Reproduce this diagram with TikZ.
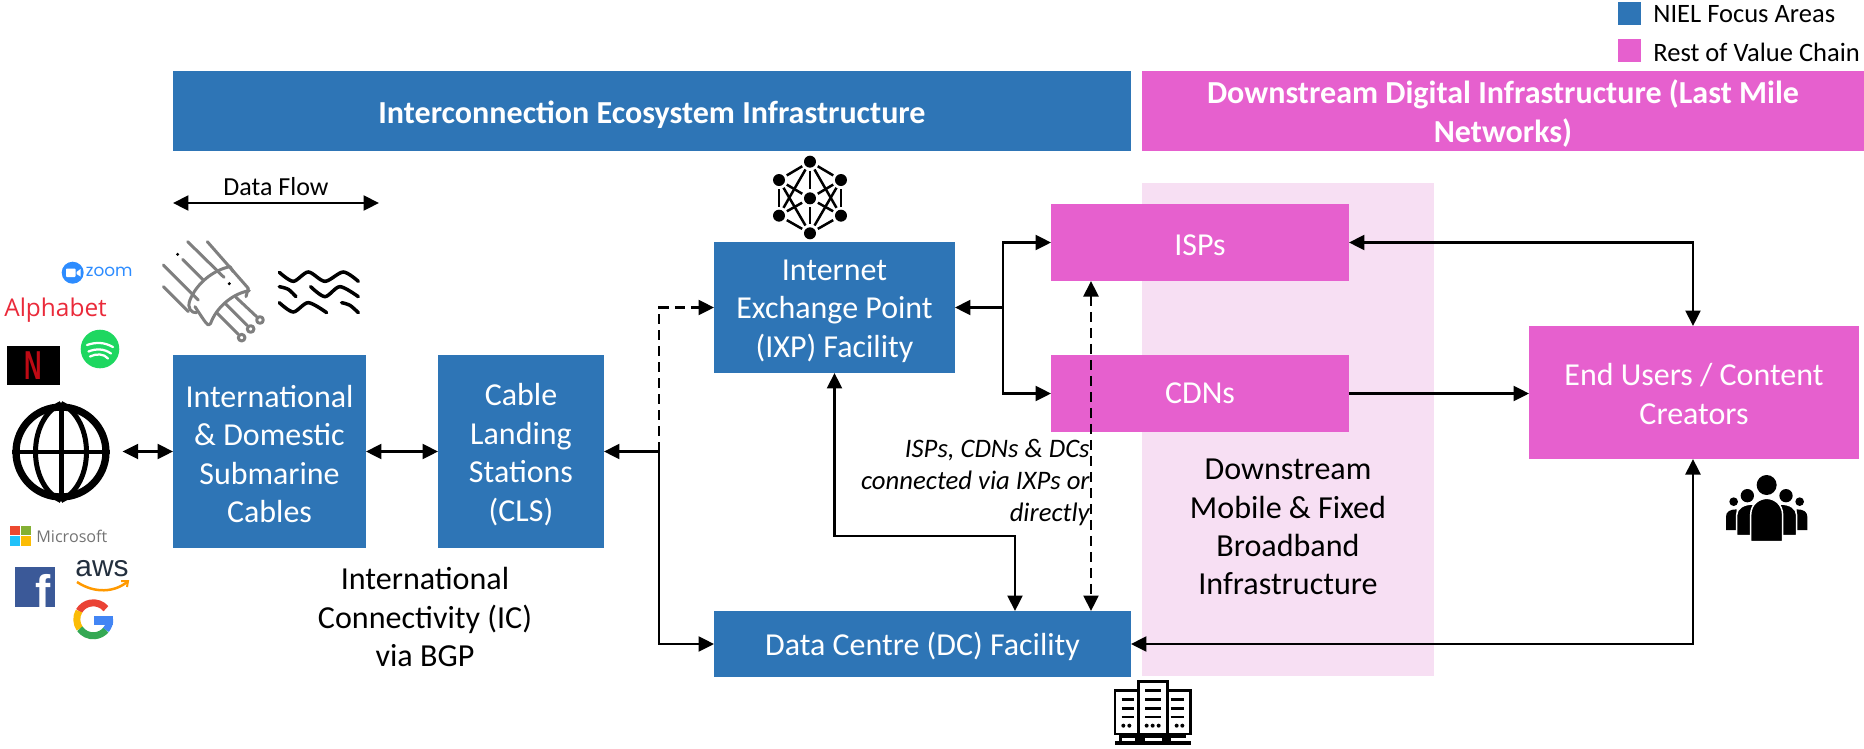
\documentclass[tikz,border=0pt]{standalone}
\usepackage{fontspec}
\usepackage{graphicx}
\setmainfont{Carlito}
\newfontfamily\logosans{Open Sans}
\newfontfamily\logoround{Poppins}
\newfontfamily\logoheavy{Liberation Sans}
\usetikzlibrary{arrows.meta}
\definecolor{nielblue}{RGB}{46,117,182}
\definecolor{chainpink}{RGB}{230,96,206}
\definecolor{panelpink}{RGB}{247,223,243}
\definecolor{cablegray}{RGB}{127,127,127}
\definecolor{zoomblue}{RGB}{45,140,255}
\definecolor{alphared}{RGB}{234,42,58}
\definecolor{netflixred}{RGB}{190,10,20}
\definecolor{spotgreen}{RGB}{30,215,96}
\definecolor{fbblue}{RGB}{59,89,152}
\definecolor{awsdark}{RGB}{35,47,62}
\definecolor{awsorange}{RGB}{255,153,0}
\definecolor{msgray}{RGB}{115,115,115}
\definecolor{ggred}{RGB}{234,67,53}
\definecolor{ggyellow}{RGB}{251,188,5}
\definecolor{gggreen}{RGB}{52,168,83}
\definecolor{ggblue}{RGB}{66,133,244}
\tikzset{
  boxbase/.style={inner sep=0pt, outer sep=0pt},
  bluebox/.style={boxbase, fill=nielblue},
  pinkbox/.style={boxbase, fill=chainpink},
  boxtext/.style={inner sep=0pt, align=center, text=white, font=\fontsize{18.2}{22}\selectfont},
  headtext/.style={boxtext, font=\fontsize{18.25}{22.4}\selectfont\bfseries},
  blacktext/.style={inner sep=0pt, align=center, text=black, font=\fontsize{18.25}{21.8}\selectfont},
  keytext/.style={blacktext, anchor=west, font=\fontsize{15.1}{18}\selectfont},
  logotext/.style={inner sep=0pt, anchor=west},
  link/.style={line width=0.044cm, {Triangle[length=0.31cm,width=0.3cm]}-{Triangle[length=0.31cm,width=0.3cm]}},
  linkone/.style={line width=0.044cm, -{Triangle[length=0.31cm,width=0.3cm]}},
  dashlink/.style={dash pattern=on 0.2cm off 0.12cm},
  icon/.style={line width=0.06cm, line cap=round, line join=round},
}
\begin{document}
\begin{tikzpicture}[x=0.02cm,y=-0.02cm]
\useasboundingbox (0,0) rectangle (1864,748);
% Legend
\node[fill=nielblue, minimum width=0.46cm, minimum height=0.46cm, inner sep=0pt] (keyniel) at (1629.5,13.5) {};
\node[fill=chainpink, minimum width=0.46cm, minimum height=0.46cm, inner sep=0pt] (keyrest) at (1629.5,50.5) {};
\node[keytext] (keynieltxt) at (1653,14) {NIEL Focus Areas};
\node[keytext] (keyresttxt) at (1653,52) {Rest of Value Chain};
% Headers
\node[bluebox, minimum width=19.16cm, minimum height=1.6cm] (headblue) at (652,111) {};
\node[pinkbox, minimum width=14.44cm, minimum height=1.6cm] (headpink) at (1503,111) {};
\node[headtext] (headbluetxt) at (652,114.5) {Interconnection Ecosystem Infrastructure};
\node[headtext] (headpinktxt) at (1503,113.5) {Downstream Digital Infrastructure (Last Mile\\Networks)};
% Panel behind the last mile boxes
\node[fill=panelpink, minimum width=5.84cm, minimum height=9.86cm, inner sep=0pt] (panel) at (1288,429.5) {};
% Boxes
\node[bluebox, minimum width=3.86cm, minimum height=3.86cm] (subsea) at (269.5,451.5) {};
\node[bluebox, minimum width=3.32cm, minimum height=3.86cm] (cls) at (521,451.5) {};
\node[bluebox, minimum width=4.82cm, minimum height=2.62cm] (ixp) at (834.5,307.5) {};
\node[bluebox, minimum width=8.34cm, minimum height=1.32cm] (dc) at (922.5,644) {};
\node[pinkbox, minimum width=5.96cm, minimum height=1.54cm] (isps) at (1200,242.5) {};
\node[pinkbox, minimum width=5.96cm, minimum height=1.54cm] (cdns) at (1200,393.5) {};
\node[pinkbox, minimum width=6.6cm, minimum height=2.66cm] (users) at (1694,392.5) {};
% Box labels
\node[boxtext] (subseatxt) at (269.5,454) {International\\\& Domestic\\Submarine\\Cables};
\node[boxtext] (clstxt) at (521,454.5) {Cable\\Landing\\Stations\\(CLS)};
\node[boxtext] (ixptxt) at (834.5,311) {Internet\\Exchange Point\\(IXP) Facility};
\node[boxtext] (dctxt) at (922.5,646.5) {Data Centre (DC) Facility};
\node[boxtext] (ispstxt) at (1200,245) {ISPs};
\node[boxtext] (cdnstxt) at (1200,393.5) {CDNs};
\node[boxtext] (userstxt) at (1694,393.7) {End Users / Content\\Creators};
% Free text
\node[blacktext] (ictxt) at (425,617) {International\\Connectivity (IC)\\via BGP};
\node[blacktext] (downtxt) at (1288,527) {Downstream\\Mobile \& Fixed\\Broadband\\Infrastructure};
\node[blacktext, font=\fontsize{15.2}{18.2}\selectfont\itshape, align=right, anchor=east] (viatxt) at (1090,483) {ISPs, CDNs \& DCs\\connected via IXPs or\\directly};
\node[blacktext, font=\fontsize{14.8}{17}\selectfont] (flowtxt) at (276,187) {Data Flow};
% Data flow arrow
\coordinate (flowl) at (173,203);
\coordinate (flowr) at (379,203);
\draw[link] (flowl) -- (flowr);
% Globe
\node[circle, draw=black, line width=0.145cm, minimum size=1.8cm, inner sep=0pt] (globe) at (61,452) {};
\draw[line width=0.1cm] (globe.north) -- (globe.south);
\draw[line width=0.07cm] (globe.west) -- (globe.east);
\draw[line width=0.1cm] (globe.north) .. controls (27,420) and (27,484) .. (globe.south);
\draw[line width=0.1cm] (globe.north) .. controls (95,420) and (95,484) .. (globe.south);
% Connectors
\coordinate (clssplit) at (659,451.5);
\coordinate (ixpsplit) at (1003,307.5);
\coordinate (dcdrop) at (1015,611);
\coordinate (dashtop) at (1091,281);
\coordinate (dashend) at (1091,611);
\coordinate (usertop) at (1693,326);
\coordinate (userbot) at (1693,459);
\draw[link, shorten <=0.26cm] (globe.east |- subsea.west) -- (subsea.west);
\draw[link] (subsea.east) -- (cls.west);
\draw[linkone] (clssplit) -- (cls.east);
\draw[linkone, dashlink] (clssplit) |- (ixp.west);
\draw[linkone] (clssplit) |- (dc.west);
\draw[linkone] (ixpsplit) -- (ixp.east);
\draw[linkone] (ixpsplit) |- (isps.west);
\draw[linkone] (ixpsplit) |- (cdns.west);
\draw[link] (ixp.south) |- (1015,536) -- (dcdrop);
\draw[link, dashlink] (dashtop) -- (dashend);
\draw[link] (isps.east) -| (usertop);
\draw[linkone] (cdns.east) -- (users.west |- cdns.east);
\draw[link] (dc.east) -| (userbot);
% Network icon
\begin{scope}[shift={(740,150)}, scale=0.3333]
\foreach \nm/\px/\py in {a/210/35, b/117/90, c/303/90, m/210/145, d/117/197, e/303/197, f/210/250} {
  \coordinate (net\nm) at (\px,\py);
  \fill[black] (\px,\py) circle (18);
}
\foreach \p/\q in {a/b, a/c, b/d, c/e, d/f, e/f, a/m, m/f, b/m, c/m, d/m, e/m, a/d, a/e, b/f, c/f} {
  \draw[line width=0.05cm, shorten <=0.18cm, shorten >=0.18cm] (net\p) -- (net\q);
}
\end{scope}
% Server icon
\begin{scope}[shift={(1080,670)}, scale=0.3333]
\draw[line width=0.055cm] (105,192) rectangle (175,62);
\draw[line width=0.055cm] (262,192) rectangle (332,62);
\draw[line width=0.055cm] (175,192) rectangle (262,35);
\foreach \yy in {88,115,141} {
  \draw[line width=0.055cm] (125,\yy) -- (162,\yy);
  \draw[line width=0.055cm] (272,\yy) -- (312,\yy);
}
\foreach \yy in {62,88,115,141} \draw[line width=0.055cm] (195,\yy) -- (242,\yy);
\foreach \xx in {130,148,200,218,236,290,307} \fill[black] (\xx,167) circle (6);
\fill[black] (104,214) rectangle (333,226);
\fill[black] (118,192) rectangle (318,214);
\foreach \xa/\xb in {125/165, 195/247, 272/317} \fill[white] (\xa,204) rectangle (\xb,214);
\end{scope}
% People icon
\begin{scope}[shift={(1700,470)}, scale=0.3333]
\foreach \sgn in {-1,1} {
  \fill[black] ({200+\sgn*99},95) circle (13);
  \fill[black] ({200+\sgn*58},77) circle (20);
  \fill[black] ({200+\sgn*122},180) -- ({200+\sgn*122},140) .. controls ({200+\sgn*122},125) and ({200+\sgn*110},118) .. ({200+\sgn*90},118) -- ({200+\sgn*90},180) -- cycle;
  \filldraw[fill=black, draw=white, line width=0.03cm] ({200+\sgn*90},197) -- ({200+\sgn*90},135) .. controls ({200+\sgn*90},115) and ({200+\sgn*70},102) .. ({200+\sgn*40},102) -- ({200+\sgn*40},197) -- cycle;
}
\fill[black] (200,45) circle (30);
\filldraw[fill=black, draw=white, line width=0.03cm] (152,215) -- (152,135) .. controls (152,100) and (180,85) .. (200,85) .. controls (220,85) and (248,100) .. (248,135) -- (248,215) -- cycle;
\end{scope}
% Cable icon
\begin{scope}[shift={(0,160)}, scale=0.3333, icon, cablegray]
\draw (563,245) -- (672,352);
\draw (622,245) -- (745,385);
\draw (548,298) -- (610,360);
\draw (490,315) -- (595,420);
\draw (490,380) -- (565,455);
\draw (690,320) .. controls (640,330) and (590,370) .. (570,420) .. controls (560,445) and (575,460) .. (590,458);
\draw (748,392) .. controls (700,400) and (650,440) .. (632,490) .. controls (625,505) and (615,485) .. (585,440);
\draw (690,320) -- (700,335);
\draw (745,385) -- (738,410);
\draw (708,412) -- (770,470);
\draw (677,432) -- (742,497);
\draw (650,458) -- (715,523);
\draw (780,480) circle (10);
\draw (752,507) circle (10);
\draw (725,533) circle (10);
\fill[black] (533,283) circle (5);
\fill[black] (688,371) circle (5);
\end{scope}
% Waves
\begin{scope}[shift={(0,160)}, scale=0.3333, line width=0.07cm, line cap=round]
\draw plot[smooth] coordinates {(838,337) (880,364) (925,336) (975,364) (1030,336) (1075,364)};
\draw plot[smooth] coordinates {(838,380) (865,388) (888,410)};
\draw plot[smooth] coordinates {(932,380) (975,410) (1020,380) (1075,410)};
\draw plot[smooth] coordinates {(838,428) (880,456) (925,428) (980,458)};
\draw plot[smooth] coordinates {(1025,428) (1050,436) (1075,458)};
\end{scope}
% Zoom logo
\fill[zoomblue] (72.7,272.7) circle (11);
\fill[white, rounded corners=0.5pt] (66,268.5) rectangle (75.5,277);
\fill[white] (76.5,272) -- (80.5,269) -- (80.5,276.5) -- (76.5,274) -- cycle;
\node[logotext, font=\fontsize{9.6}{12}\logoround\selectfont, text=zoomblue] (zoomtxt) at (85.5,272) {zoom};
% Alphabet logo
\node[logotext, font=\fontsize{13.9}{17}\logosans\selectfont, text=alphared] (alphatxt) at (4,310) {Alphabet};
% Netflix logo
\node[fill=black, minimum width=1.06cm, minimum height=0.78cm, inner sep=0pt, text=netflixred, font=\fontsize{23}{25}\logoheavy\bfseries\selectfont] (netflix) at (33.5,365.5) {\scalebox{0.6}[1]{N}};
% Spotify logo
\fill[spotgreen] (100,349) circle (19.3);
\foreach \xa/\xb/\yy in {87/113/345, 88.5/111/351.5, 90/108/356.5} {
  \draw[white, line width=0.045cm, line cap=round] (\xa,\yy) .. controls (96,{\yy-3}) and (104,{\yy-3}) .. (\xb,{\yy+2});
}
% Microsoft logo
\fill[ggred!90!orange] (10,525.5) rectangle (20,535);
\fill[gggreen!60!ggyellow] (21,525.5) rectangle (31,535);
\fill[ggblue!50!cyan] (10,536) rectangle (20,546);
\fill[ggyellow] (21,536) rectangle (31,546);
\node[logotext, font=\fontsize{9.2}{11}\logosans\selectfont, text=msgray] (mstxt) at (36,536) {Microsoft};
% Facebook logo
\node[fill=fbblue, minimum width=0.8cm, minimum height=0.8cm, inner sep=0pt, text=white, font=\fontsize{26}{28}\logoheavy\bfseries\selectfont] (fbook) at (35,587) {\hspace{9pt}\raisebox{-11.4pt}[0pt][0pt]{f}};
% Aws logo
\node[font=\fontsize{17}{18}\logoheavy\selectfont, text=awsdark, inner sep=0pt] (awstxt) at (102,569) {aws};
\draw[awsorange, line width=0.05cm] (77,582) .. controls (95,594) and (115,592) .. (127,582);
\draw[awsorange, line width=0.04cm] (121,581) -- (128,581) -- (127,587);
% Google logo
\coordinate (gcentre) at (93.3,619.3);
\draw[ggred, line width=0.14cm] ([shift=(40:0.33cm)]gcentre) arc (40:150:0.33cm);
\draw[ggyellow, line width=0.14cm] ([shift=(150:0.33cm)]gcentre) arc (150:215:0.33cm);
\draw[gggreen, line width=0.14cm] ([shift=(215:0.33cm)]gcentre) arc (215:320:0.33cm);
\draw[ggblue, line width=0.14cm] ([shift=(320:0.33cm)]gcentre) arc (320:360:0.33cm);
\fill[ggblue] (94,616) rectangle (113,625);
\end{tikzpicture}
\end{document}
